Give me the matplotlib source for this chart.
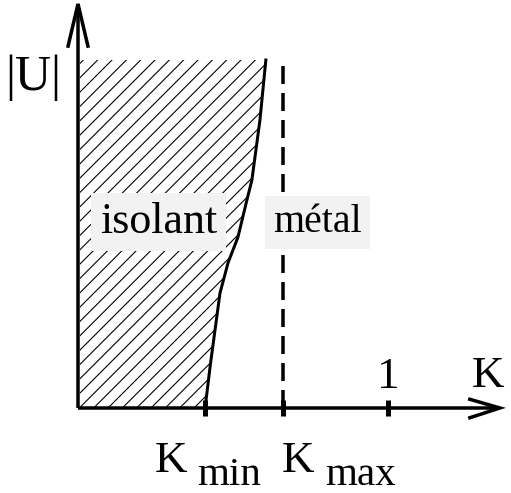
import numpy as np
import matplotlib
matplotlib.use('Agg')
import matplotlib.pyplot as plt

# phase boundary insulator / metal, K as a function of |U| (|U| scaled to 1 at top)
u_bound = [0.0, 0.118, 0.224, 0.330, 0.417, 0.491, 0.598, 0.655, 0.828, 1.0]
k_bound = [0.410, 0.426, 0.442, 0.458, 0.484, 0.516, 0.545, 0.561, 0.587, 0.606]
k_min = 0.41
k_max = 0.66
k_one = 1.0
u_top = 1.0

DPI = 86
def pt(px):
    # pixel sizes -> points for this dpi
    return px * 72.0 / DPI

plt.rcParams['font.family'] = ['Liberation Serif', 'DejaVu Serif']
plt.rcParams['hatch.linewidth'] = pt(1.1)

fig = plt.figure(figsize=(511 / DPI, 493 / DPI), dpi=DPI)
ax = fig.add_axes([0, 0, 1, 1])
ax.set_xlim(-0.2516, 1.3968)
ax.set_ylim(-0.2443, 1.1724)
ax.axis('off')

# insulating region
ax.fill_betweenx(u_bound, 0.006, k_bound, facecolor='none', edgecolor='black',
                 hatch='//', linewidth=0)
ax.plot(k_bound, u_bound, color='black', lw=pt(3))

# K_max line
ax.plot([k_max, k_max], [0, u_top], color='black', lw=pt(3.5),
        linestyle=(0, (18 / 3.5, 9 / 3.5)))

# axes with open arrow heads
lw_ax = pt(3.5)
x_tip, y_tip = 1.361, 1.161
ax.plot([0, x_tip], [0, 0], color='black', lw=lw_ax, solid_capstyle='butt')
ax.plot([0, 0], [0, y_tip], color='black', lw=lw_ax, solid_capstyle='butt')
ax.plot([x_tip - 0.097, x_tip, x_tip - 0.097], [0.025, 0, -0.028], color='black',
        lw=lw_ax, solid_joinstyle='miter')
ax.plot([-0.032, 0, 0.032], [y_tip - 0.121, y_tip, y_tip - 0.121], color='black',
        lw=lw_ax, solid_joinstyle='miter')

# ticks
for k in [k_min, k_max, k_one]:
    ax.plot([k, k], [-0.024, 0.024], color='black', lw=pt(5), solid_capstyle='butt')

fs = pt(45)
fs_sub = pt(41)
ax.text(-0.145, 0.914, '|U|', fontsize=pt(50), ha='center', va='baseline')
ax.text(1.323, 0.060, 'K', fontsize=fs, ha='center', va='baseline')
ax.text(k_one, 0.057, '1', fontsize=fs, ha='center', va='baseline')
ax.text(0.248, -0.185, 'K', fontsize=fs, ha='left', va='baseline')
ax.text(0.384, -0.221, 'min', fontsize=fs_sub, ha='left', va='baseline')
ax.text(0.658, -0.185, 'K', fontsize=fs, ha='left', va='baseline')
ax.text(0.797, -0.221, 'max', fontsize=fs_sub, ha='left', va='baseline')

box = dict(boxstyle='square,pad=0.2', facecolor='#f2f2f2', edgecolor='none')
ax.text(0.071, 0.503, 'isolant', fontsize=pt(44), ha='left', va='baseline', bbox=box)
ax.text(0.629, 0.506, 'métal', fontsize=pt(40), ha='left', va='baseline', bbox=box)

fig.savefig('out.png', dpi=DPI)
